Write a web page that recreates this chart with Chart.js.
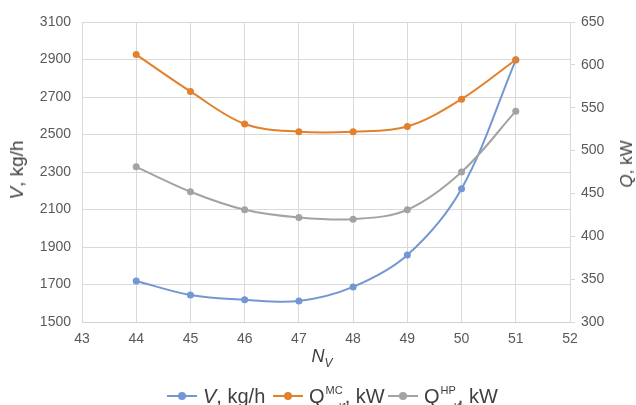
<!DOCTYPE html>
<html>
<head>
<meta charset="utf-8">
<script src="https://cdn.jsdelivr.net/npm/chart.js@4.4.1/dist/chart.umd.min.js"></script>
<style>
    html, body { margin: 0; padding: 0; background: #fff; }
    #wrap { position: relative; width: 636px; height: 405px; overflow: hidden; font-family: "Liberation Sans", Arial, sans-serif; color: #404040; }
    canvas { position: absolute; left: 0; top: 0; }
    .ytitle { position: absolute; white-space: nowrap; transform: translate(-50%, -50%) rotate(-90deg); }
    .xtitle { position: absolute; white-space: nowrap; transform: translate(-50%, -50%); font-size: 18px; }
    .xtitle sub { font-size: 12px; vertical-align: -5px; }
    .item { position: absolute; top: 384px; height: 24px; display: flex; align-items: center; font-size: 20px; white-space: nowrap; }
    .mark { position: relative; width: 30px; height: 2px; margin-right: 6px; }
    .mark i { position: absolute; left: 11px; top: -3px; width: 8px; height: 8px; border-radius: 50%; }
    .ss { position: relative; display: inline-block; font-size: 11px; line-height: 11px; margin: 0 2px 0 1px; transform: translateY(-6px); }
    .ss .sb { position: absolute; left: 0; top: 17px; }
</style>
</head>
<body>
<div id="wrap">
    <canvas id="chart" width="636" height="405"></canvas>
    <div class="ytitle" style="left:17px; top:170px; font-size:19px;"><i>V</i>, kg/h</div>
    <div class="ytitle" style="left:627px; top:164px; font-size:17px;"><i>Q</i>, kW</div>
    <div class="xtitle" style="left:322px; top:358px;"><i>N</i><sub><i>V</i></sub></div>
    <div class="item" style="left:167px;"><span class="mark" style="background:#7397d2"><i style="background:#7397d2"></i></span><span><i>V</i>, kg/h</span></div>
    <div class="item" style="left:273px;"><span class="mark" style="background:#e2802c"><i style="background:#e2802c"></i></span><span>Q</span><span class="ss">MC<span class="sb">red1</span></span><span>, kW</span></div>
    <div class="item" style="left:388px;"><span class="mark" style="background:#a3a3a3"><i style="background:#a3a3a3"></i></span><span>Q</span><span class="ss">HP<span class="sb">red1</span></span><span>, kW</span></div>
</div>
<script>
// values
const nV = [44, 45, 46, 47, 48, 49, 50, 51];
const flowV = [1719, 1644, 1619, 1612, 1687, 1857, 2211, 2897];
const qMC = [612, 569, 531, 522, 522, 528, 560, 606];
const qHP = [481, 452, 431, 422, 420, 431, 475, 546];

const xTicks = [43, 44, 45, 46, 47, 48, 49, 50, 51, 52];
const leftTicks = [1500, 1700, 1900, 2100, 2300, 2500, 2700, 2900, 3100];
const rightTicks = [300, 350, 400, 450, 500, 550, 600, 650];

const gridColor = '#d9d9d9';
const tickFont = { family: '"Liberation Sans", Arial, sans-serif', size: 14 };

function pts(values) {
    return nV.map((x, i) => ({ x: x, y: values[i] }));
}

function series(values, color, axis, order) {
    return {
        data: pts(values),
        yAxisID: axis,
        borderColor: color,
        backgroundColor: color,
        borderWidth: 2,
        pointRadius: 3.5,
        pointBorderWidth: 0,
        tension: 0.35,
        order: order
    };
}

const plain = v => String(v);

new Chart(document.getElementById('chart'), {
    type: 'line',
    data: {
        datasets: [
            series(flowV, '#7397d2', 'y', 3),
            series(qMC, '#e2802c', 'y1', 2),
            series(qHP, '#a3a3a3', 'y1', 1)
        ]
    },
    options: {
        responsive: false,
        animation: false,
        devicePixelRatio: 1,
        layout: { padding: { top: 22, left: 0, right: 0, bottom: 0 } },
        plugins: { legend: { display: false }, tooltip: { enabled: false } },
        scales: {
            x: {
                type: 'linear',
                min: xTicks[0],
                max: xTicks[xTicks.length - 1],
                afterBuildTicks: s => { s.ticks = xTicks.map(v => ({ value: v })); },
                afterFit: s => { s.height = 83; },
                ticks: { font: tickFont, color: '#595959', padding: 9, callback: plain },
                grid: { color: gridColor, drawTicks: false },
                border: { color: '#cfcfcf' }
            },
            y: {
                position: 'left',
                min: leftTicks[0],
                max: leftTicks[leftTicks.length - 1],
                afterBuildTicks: s => { s.ticks = leftTicks.map(v => ({ value: v })); },
                afterFit: s => { s.width = 82; },
                ticks: { font: tickFont, color: '#595959', padding: 11, callback: plain },
                grid: { color: gridColor, drawTicks: false },
                border: { color: gridColor }
            },
            y1: {
                position: 'right',
                min: rightTicks[0],
                max: rightTicks[rightTicks.length - 1],
                afterBuildTicks: s => { s.ticks = rightTicks.map(v => ({ value: v })); },
                afterFit: s => { s.width = 66; },
                ticks: { font: tickFont, color: '#595959', padding: 6, callback: plain },
                grid: { color: gridColor, drawOnChartArea: false, drawTicks: true, tickLength: 5 },
                border: { color: gridColor }
            }
        }
    }
});
</script>
</body>
</html>
